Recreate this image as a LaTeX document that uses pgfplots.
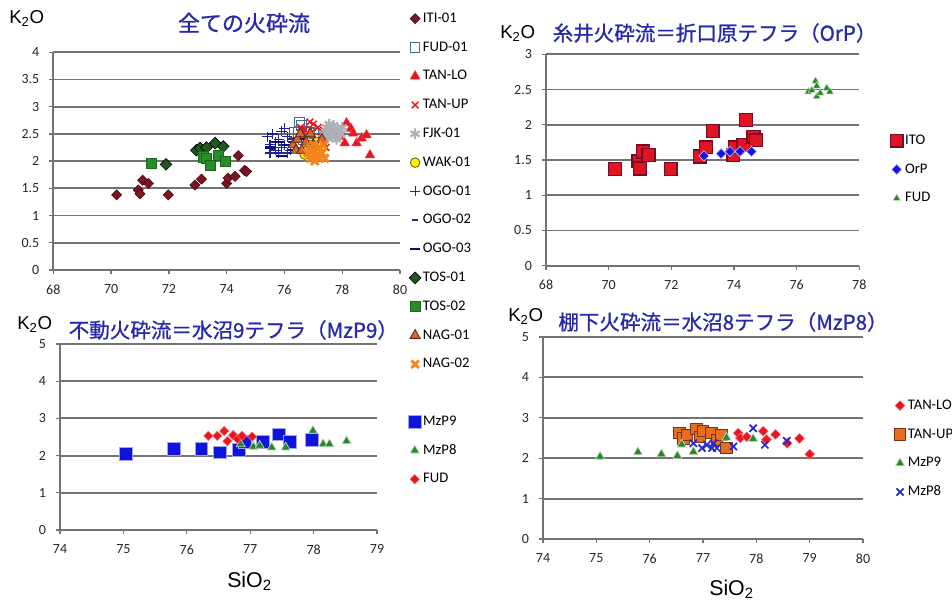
\documentclass[border=0pt]{standalone}
\usepackage{fontspec}
\setmainfont{Carlito}
\newfontfamily\cjk[FakeBold=1]{Noto Sans CJK JP}
\newfontfamily\arial{Liberation Sans}
\usepackage{pgfplots}
\pgfplotsset{compat=1.18}

\definecolor{titleblue}{RGB}{40,40,170}
\definecolor{gridgray}{RGB}{115,115,115}
\definecolor{iti}{RGB}{125,20,35}
\definecolor{itiedge}{RGB}{70,5,15}
\definecolor{fudedge}{RGB}{70,110,140}
\definecolor{tanred}{RGB}{232,20,30}
\definecolor{fjk}{RGB}{170,178,182}
\definecolor{wakfill}{RGB}{255,240,0}
\definecolor{wakedge}{RGB}{110,90,0}
\definecolor{ogoa}{RGB}{30,30,160}
\definecolor{ogob}{RGB}{40,50,110}
\definecolor{ogoc}{RGB}{10,10,130}
\definecolor{tosa}{RGB}{30,90,30}
\definecolor{tosb}{RGB}{40,140,40}
\definecolor{tosbedge}{RGB}{30,100,30}
\definecolor{naga}{RGB}{215,100,50}
\definecolor{nagaedge}{RGB}{90,40,20}
\definecolor{nagb}{RGB}{245,130,30}
\definecolor{ito}{RGB}{225,20,35}
\definecolor{itoedge}{RGB}{120,10,40}
\definecolor{orp}{RGB}{20,20,225}
\definecolor{orpedge}{RGB}{190,190,255}
\definecolor{fudgreen}{RGB}{40,135,40}
\definecolor{mzblue}{RGB}{15,20,220}
\definecolor{tanup}{RGB}{230,110,30}
\definecolor{tanupedge}{RGB}{120,50,20}
\definecolor{mzx}{RGB}{40,40,210}

\pgfplotsset{
  base/.style={
    scale only axis, anchor=south west,
    axis x line*=bottom, axis y line*=left,
    axis line style={gridgray, line width=1.4pt, -},
    ymajorgrids, grid style={gridgray, line width=1.4pt},
    tick align=outside, major tick length=3pt,
    tick style={gridgray, line width=1pt},
    /pgf/number format/assume math mode=true,
    tick label style={font=\fontsize{10.5}{11}\selectfont, text=black!85},
    xticklabel style={yshift=-4.5pt},
    yticklabel style={xshift=-4pt},
    legend style={draw=none, fill=none, font=\fontsize{11}{12}\selectfont,
      row sep=9.1pt, anchor=north west, inner sep=0pt,
      nodes={text height=7.5pt, text depth=2pt, inner sep=1.5pt},
      /tikz/every even column/.append style={column sep=1pt}},
    legend cell align=left,
    legend image code/.code={\draw[#1] plot coordinates {(0pt,0pt)};},
    clip=false,
  },
}

\begin{document}
\begin{tikzpicture}
\path[use as bounding box] (0,0) rectangle (714pt,452.25pt);

% ---------------- Panel 1 ----------------
\begin{axis}[base, at={(40pt,249.75pt)}, width=260pt, height=163.3pt,
  xmin=68, xmax=80, ymin=0, ymax=4,
  xtick={68,70,72,74,76,78,80}, ytick={0,0.5,1,1.5,2,2.5,3,3.5,4},
  legend style={at={(1.026,1.194)}}]
\addplot[only marks, mark=square*, mark size=2.7pt, mark options={rotate=45, fill=iti, draw=itiedge, line width=0.4pt}] table {
70.19 1.38
70.94 1.47
71.00 1.40
71.09 1.65
71.29 1.59
71.98 1.38
72.90 1.56
73.13 1.67
74.00 1.59
74.05 1.69
74.29 1.72
74.40 2.10
74.62 1.83
74.69 1.81
};
\addlegendentry{ITI-01}
\addplot[only marks, mark=square, mark size=3.6pt, mark options={draw=fudedge, fill=none, line width=0.8pt}] table {
76.34 2.53
76.48 2.53
76.53 2.72
76.59 2.66
76.73 2.55
76.64 2.39
76.87 2.53
77.03 2.51
};
\addlegendentry{FUD-01}
\addplot[only marks, mark=triangle*, mark size=4.2pt, mark options={fill=tanred, draw=tanred!80!white, line width=0.4pt}] table {
77.60 2.55
77.90 2.45
78.09 2.33
78.15 2.70
78.30 2.60
78.38 2.51
78.50 2.33
78.67 2.42
78.84 2.48
78.96 2.11
};
\addlegendentry{TAN-LO}
\addplot[only marks, mark=x, mark size=3.5pt, mark options={draw=tanred, line width=1.1pt}] table {
76.56 2.62
76.63 2.49
76.70 2.58
76.88 2.72
76.94 2.53
77.00 2.68
77.16 2.62
77.26 2.45
77.35 2.57
77.44 2.25
};
\addlegendentry{TAN-UP}
\addplot[only marks, mark=asterisk, mark size=4pt, mark options={draw=fjk, line width=1.6pt}] table {
77.35 2.50
77.45 2.62
77.50 2.42
77.60 2.55
77.70 2.66
77.75 2.45
77.85 2.58
77.95 2.50
78.00 2.62
77.55 2.68
77.80 2.40
77.65 2.50
};
\addlegendentry{FJK-01}
\addplot[only marks, mark=*, mark size=3.6pt, mark options={fill=wakfill, draw=wakedge, line width=0.6pt}] table {
76.70 2.12
76.80 2.20
76.90 2.30
77.00 2.12
77.10 2.35
77.20 2.18
77.30 2.28
};
\addlegendentry{WAK-01}
\addplot[only marks, mark=+, mark size=3.8pt, mark options={draw=ogoa, line width=0.9pt}] table {
75.40 2.45
75.50 2.30
75.60 2.50
75.70 2.20
75.80 2.40
75.90 2.55
76.00 2.30
76.10 2.45
76.20 2.20
75.50 2.15
75.80 2.15
76.00 2.60
76.30 2.35
75.70 2.35
75.90 2.25
76.10 2.15
};
\addlegendentry{OGO-01}
\addplot[only marks, mark=-, mark size=2.5pt, mark options={draw=ogob, line width=1.4pt}] table {
75.60 2.20
75.90 2.30
76.20 2.40
76.40 2.25
76.00 2.15
76.50 2.50
};
\addlegendentry{OGO-02}
\addplot[only marks, mark=-, mark size=4pt, mark options={draw=ogoc, line width=1.6pt}] table {
75.50 2.25
75.80 2.35
76.10 2.30
76.30 2.20
76.60 2.40
75.90 2.10
};
\addlegendentry{OGO-03}
\addplot[only marks, mark=square*, mark size=3.1pt, mark options={rotate=45, fill=tosa, draw=black, line width=0.5pt}] table {
71.90 1.94
72.95 2.20
73.08 2.24
73.30 2.25
73.60 2.33
73.88 2.27
};
\addlegendentry{TOS-01}
\addplot[only marks, mark=square*, mark size=3.8pt, mark options={fill=tosb, draw=tosbedge, line width=0.5pt}] table {
71.40 1.96
73.19 2.08
73.30 2.05
73.42 1.93
73.71 2.11
73.94 1.99
};
\addlegendentry{TOS-02}
\addplot[only marks, mark=triangle*, mark size=4.4pt, mark options={fill=naga, draw=nagaedge, line width=0.6pt}] table {
76.30 2.30
76.40 2.20
76.45 2.40
76.55 2.50
76.60 2.20
76.75 2.35
76.90 2.50
77.00 2.30
77.30 2.40
};
\addlegendentry{NAG-01}
\addplot[only marks, mark=x, mark size=4pt, mark options={draw=nagb, line width=2.2pt}] table {
76.80 2.15
76.90 2.05
76.90 2.25
77.00 2.20
77.00 2.30
77.05 2.00
77.10 2.10
77.20 2.25
77.20 2.05
77.30 2.15
77.35 2.30
77.40 2.05
};
\addlegendentry{NAG-02}
\end{axis}

% ---------------- Panel 2 ----------------
\begin{axis}[base, at={(409.5pt,253pt)}, width=235pt, height=158.5pt,
  xmin=68, xmax=78, ymin=0, ymax=3,
  xtick={68,70,72,74,76,78}, ytick={0,0.5,1,1.5,2,2.5,3},
  legend style={at={(1.098,0.632)}}]
\addplot[only marks, mark=square*, mark size=4.8pt, mark options={fill=ito, draw=itoedge, line width=1pt}] table {
70.20 1.37
70.95 1.48
71.00 1.38
71.10 1.62
71.27 1.57
71.98 1.37
72.92 1.55
73.11 1.68
73.32 1.91
73.98 1.57
74.03 1.68
74.30 1.71
74.38 2.07
74.62 1.83
74.70 1.78
};
\addlegendentry{ITO}
\addplot[only marks, mark=square*, mark size=2.7pt, mark options={rotate=45, fill=orp, draw=orpedge, line width=0.5pt}] table {
73.04 1.56
73.59 1.59
73.87 1.62
74.19 1.62
74.56 1.62
};
\addlegendentry{OrP}
\addplot[only marks, mark=triangle*, mark size=3.2pt, mark options={fill=fudgreen, draw=fudgreen!30!white, line width=0.4pt}] table {
76.37 2.47
76.48 2.49
76.60 2.62
76.64 2.40
76.64 2.55
76.75 2.45
76.96 2.52
77.06 2.47
};
\addlegendentry{FUD}
\end{axis}

% ---------------- Panel 3 ----------------
\begin{axis}[base, at={(45pt,54.75pt)}, width=237.75pt, height=139.5pt,
  xmin=74, xmax=79, ymin=0, ymax=5,
  xtick={74,75,76,77,78,79}, ytick={0,1,2,3,4,5},
  legend style={at={(1.098,0.629)}}]
\addplot[only marks, mark=square*, mark size=4.8pt, mark options={fill=mzblue, draw=mzblue!40!white, line width=0.5pt}] table {
75.04 2.05
75.79 2.18
76.23 2.19
76.52 2.09
76.82 2.15
76.91 2.37
77.20 2.37
77.45 2.57
77.63 2.37
77.97 2.43
};
\addlegendentry{MzP9}
\addplot[only marks, mark=triangle*, mark size=3.9pt, mark options={fill=fudgreen, draw=fudgreen!30!white, line width=0.5pt}] table {
76.85 2.31
77.05 2.24
77.15 2.27
77.34 2.22
77.56 2.22
77.99 2.67
78.15 2.31
78.25 2.31
78.52 2.39
};
\addlegendentry{MzP8}
\addplot[only marks, mark=square*, mark size=2.5pt, mark options={rotate=45, fill=tanred, draw=tanred!60!white, line width=0.4pt}] table {
76.34 2.53
76.48 2.53
76.59 2.66
76.64 2.39
76.73 2.55
76.80 2.45
76.87 2.53
77.03 2.51
};
\addlegendentry{FUD}
\end{axis}

% ---------------- Panel 4 ----------------
\begin{axis}[base, at={(407.25pt,48pt)}, width=240pt, height=151.5pt,
  xmin=74, xmax=80, ymin=0, ymax=5,
  xtick={74,75,76,77,78,79,80}, ytick={0,1,2,3,4,5},
  legend style={at={(1.097,0.703)}}]
\addplot[only marks, mark=square*, mark size=2.6pt, mark options={rotate=45, fill=tanred, draw=tanred!60!white, line width=0.4pt}] table {
77.66 2.62
77.70 2.50
77.82 2.53
78.13 2.67
78.19 2.46
78.36 2.59
78.58 2.37
78.81 2.49
79.00 2.10
};
\addlegendentry{TAN-LO}
\addplot[only marks, mark=square*, mark size=4.3pt, mark options={fill=tanup, draw=tanupedge, line width=0.7pt}] table {
76.56 2.62
76.63 2.49
76.70 2.58
76.88 2.72
76.94 2.53
77.00 2.68
77.16 2.62
77.26 2.45
77.35 2.57
77.44 2.25
};
\addlegendentry{TAN-UP}
\addplot[only marks, mark=triangle*, mark size=3.9pt, mark options={fill=fudgreen, draw=fudgreen!30!white, line width=0.5pt}] table {
75.07 2.04
75.78 2.15
76.22 2.10
76.52 2.06
76.60 2.34
76.82 2.16
77.44 2.51
77.94 2.48
};
\addlegendentry{MzP9}
\addplot[only marks, mark=x, mark size=3.8pt, mark options={draw=mzx, line width=1.3pt}] table {
76.82 2.37
76.98 2.25
77.07 2.33
77.17 2.25
77.20 2.37
77.26 2.25
77.57 2.29
77.94 2.74
78.16 2.33
78.57 2.43
};
\addlegendentry{MzP8}
\end{axis}

% ---------------- Titles and labels ----------------
\node[text=titleblue, font=\cjk\fontsize{16.5}{18}\selectfont] at (183pt,435pt) {全ての火砕流};
\node[text=titleblue, font=\cjk\fontsize{15.4}{17}\selectfont] at (535.9pt,427.5pt) {糸井火砕流＝折口原テフラ（OrP）};
\node[text=titleblue, font=\cjk\fontsize{15.4}{17}\selectfont] at (175pt,204.75pt) {不動火砕流＝水沼9テフラ（MzP9）};
\node[text=titleblue, font=\cjk\fontsize{15.4}{17}\selectfont] at (542.25pt,210.75pt) {棚下火砕流＝水沼8テフラ（MzP8）};

\node[anchor=base west, inner sep=0pt, font=\arial\fontsize{14}{15}\selectfont] at (6.75pt,434.8pt) {K\textsubscript{2}O};
\node[anchor=base west, inner sep=0pt, font=\arial\fontsize{14}{15}\selectfont] at (375pt,423.5pt) {K\textsubscript{2}O};
\node[anchor=base west, inner sep=0pt, font=\arial\fontsize{14}{15}\selectfont] at (12.75pt,205.25pt) {K\textsubscript{2}O};
\node[anchor=base west, inner sep=0pt, font=\arial\fontsize{14}{15}\selectfont] at (381pt,211pt) {K\textsubscript{2}O};

\node[anchor=base west, inner sep=0pt, font=\arial\fontsize{16}{17}\selectfont] at (170.25pt,11.8pt) {SiO\textsubscript{2}};
\node[anchor=base west, inner sep=0pt, font=\arial\fontsize{16}{17}\selectfont] at (531.75pt,6pt) {SiO\textsubscript{2}};
\end{tikzpicture}
\end{document}
